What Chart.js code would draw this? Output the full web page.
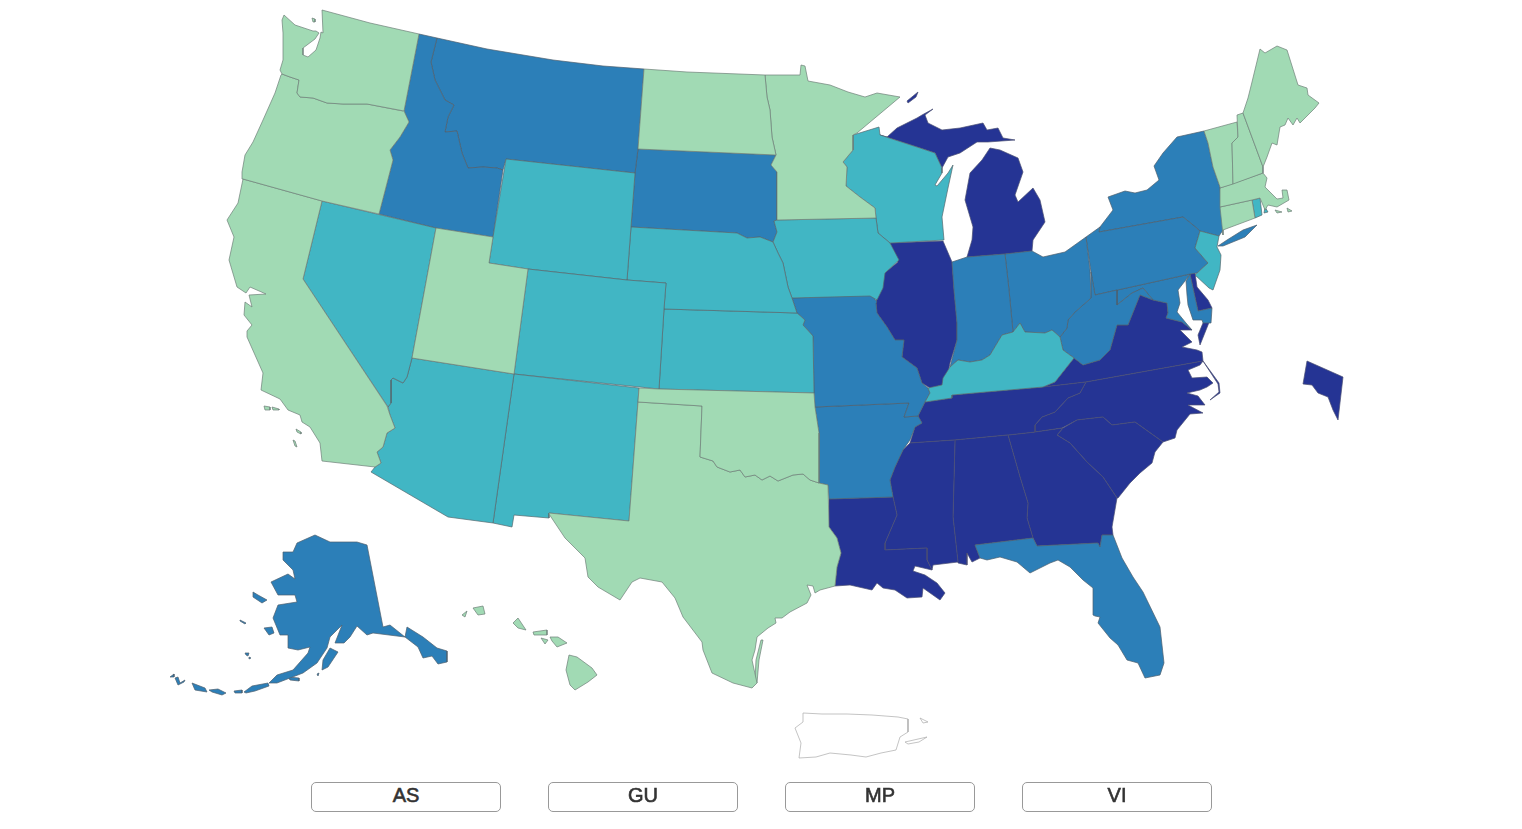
<!DOCTYPE html>
<html>
<head>
<meta charset="utf-8">
<title>US map</title>
<script src="https://cdn.jsdelivr.net/npm/chart.js@4"></script>
<style>
body { margin: 0; background: #fff; overflow: hidden; }
#mapChart { position: absolute; left: 0; top: 0; }
.territory {
    position: absolute; top: 782px; width: 190px; height: 30px; box-sizing: border-box;
    background: #fff; border: 1px solid #999; border-radius: 5px; padding: 0 0 3px 0;
    font: 20px "Liberation Sans", Arial, sans-serif; color: #333; -webkit-text-stroke: 0.6px #333;
}
</style>
</head>
<body>
<canvas id="mapChart" width="1522" height="829"></canvas>
<button class="territory" style="left:311px">AS</button>
<button class="territory" style="left:548px">GU</button>
<button class="territory" style="left:785px">MP</button>
<button class="territory" style="left:1022px">VI</button>
<script>
// rate bucket per state, 0 = lowest, 3 = highest, -1 = no data
var level0 = ['WA','OR','CA','UT','ND','MN','OK','TX','ME','NH','VT','MA','CT','HI'];
var level1 = ['NV','AZ','NM','CO','WY','NE','KS','IA','WI','KY','NJ','RI'];
var level2 = ['ID','MT','SD','MO','AR','IN','OH','WV','PA','NY','MD','FL','AK'];
var level3 = ['IL','MI','LA','MS','AL','TN','GA','SC','NC','VA','DE','DC'];
var noData = ['PR'];

var levelColors = ['#a1dab4','#41b6c4','#2c7fb8','#253494'];

// outlines, flat x,y lists in map units, one list per land part
var WA = [[322,10,370,23,419,34,404,111,403,111,367,104,343,104,327,103,313,98,300,97,297,93,299,80,290,77,282,74,280,70,283,60,283,53,283,33,282,20,284,15,295,25,313,31,316,31,319,33,315,39,303,48,303,55,308,57,316,50,320,38,321,32,323,33],
    [312,18,315,19,315,22,313,22]];
var OR = [[404,111,409,122,400,137,390,150,393,160,379,214,322,201,243,179,242,172,245,155,253,142,263,120,275,93,281,75,282,74,290,77,299,80,297,93,300,97,313,98,327,103,343,104,367,104,403,111]];
var CA = [[243,179,322,201,303,279,387,406,390,415,395,428,387,433,383,447,377,452,381,463,375,467,322,461,320,443,310,427,302,422,300,415,288,410,280,399,261,390,263,373,247,337,247,331,252,325,244,315,245,302,252,307,249,295,266,294,250,287,246,293,237,287,229,260,234,237,227,220,238,203],
    [264,406,270,407,270,410,265,410],[272,407,279,409,279,410,273,410],[296,429,301,432,301,434,297,432],[293,440,295,441,297,447,295,446]];
var NV = [[322,201,436,228,412,358,407,377,403,383,393,378,391,380,391,403,388,407,303,279]];
var UT = [[436,228,493,237,489,263,528,269,514,374,412,358]];
var WY = [[506,159,635,173,631,227,627,280,528,269,489,263,493,237]];
var ID = [[419,34,437,38,431,62,435,80,445,100,454,105,448,117,445,132,457,131,462,153,468,168,483,167,497,168,503,170,493,237,436,228,379,214,393,160,390,150,400,137,409,122,404,111]];
var MT = [[437,38,487,49,553,60,603,66,644,69,638,149,635,173,506,159,503,170,497,168,483,167,468,168,462,153,457,131,445,132,448,117,454,105,445,100,435,80,431,62]];
var ND = [[644,69,687,72,765,75,767,97,770,110,772,137,776,155,638,149]];
var MN = [[765,75,800,75,801,65,805,66,808,81,830,85,848,92,865,97,877,93,900,97,857,133,853,135,853,150,843,162,847,167,846,186,860,197,875,208,876,218,777,220,777,172,771,165,776,155,772,137,770,110,767,97]];
var SD = [[638,149,776,155,771,165,777,172,777,220,774,221,777,232,773,242,760,237,747,238,737,233,631,227,635,173]];
var NE = [[631,227,737,233,747,238,760,237,773,242,778,253,783,263,788,287,792,298,797,313,664,309,666,283,627,280]];
var CO = [[528,269,627,280,666,283,664,309,659,389,514,374]];
var NM = [[514,374,639,388,629,521,549,513,549,518,514,515,512,527,493,523]];
var AZ = [[412,358,514,374,493,523,448,517,371,472,375,467,381,463,377,452,383,447,387,433,395,428,390,415,388,407,391,403,391,380,393,378,403,383,407,377]];
var KS = [[664,309,797,313,805,320,803,325,813,336,814,393,659,389]];
var OK = [[639,388,659,389,814,393,815,407,819,433,819,483,810,480,803,474,793,475,778,481,770,476,762,480,755,475,745,477,740,470,730,472,717,467,713,461,700,457,702,406,638,402]];
var TX = [[638,402,702,406,700,457,713,461,717,467,730,472,740,470,745,477,755,475,762,480,770,476,778,481,793,475,803,474,810,480,819,483,828,485,829,527,837,538,841,553,837,567,835,586,820,590,815,593,813,586,807,585,811,595,807,603,790,612,782,618,775,618,776,623,768,628,757,637,755,650,752,660,757,683,752,688,733,683,712,673,703,650,702,642,683,617,675,598,662,582,640,578,632,582,620,600,598,587,588,577,585,558,565,538,553,520,549,514,549,513,629,521],
    [757,683,759,660,763,640,761,640,756,660,755,680]];
var MO = [[792,298,872,295,877,302,876,303,877,313,887,327,895,340,904,340,902,357,917,368,922,383,928,388,930,393,925,402,918,416,904,417,909,403,815,407,814,393,813,336,803,325,805,320,797,313]];
var AR = [[815,407,909,403,904,417,918,416,922,423,915,427,910,440,903,450,895,467,890,480,893,497,829,499,828,485,819,483,819,433]];
var LA = [[829,499,893,497,897,515,885,543,885,550,927,548,927,560,932,570,915,566,913,571,925,575,928,577,937,583,945,593,940,600,923,588,922,597,907,598,895,590,883,588,877,583,872,590,850,585,835,586,837,567,841,553,837,538,829,527]];
var MS = [[910,443,955,440,953,517,958,562,933,565,932,570,927,560,927,548,885,550,885,543,897,515,893,497,890,480,895,467,903,450]];
var AL = [[955,440,1008,435,1020,477,1028,503,1027,518,1033,538,975,545,980,558,972,562,967,553,967,565,958,563,953,517]];
var GA = [[1008,435,1035,432,1063,428,1057,435,1070,443,1087,462,1103,477,1117,498,1112,527,1113,535,1102,535,1100,547,1098,543,1037,546,1033,538,1027,518,1028,503,1020,477]];
var FL = [[975,545,1033,538,1037,546,1098,543,1100,547,1102,535,1113,535,1122,558,1133,577,1143,592,1160,627,1164,663,1160,675,1145,678,1138,663,1127,660,1118,645,1110,638,1098,623,1100,617,1095,616,1093,615,1093,588,1083,580,1070,567,1058,560,1050,563,1030,573,1017,562,1000,557,987,560,980,558]];
var SC = [[1057,435,1063,428,1077,420,1103,417,1112,425,1135,422,1163,442,1155,452,1152,463,1140,473,1130,483,1118,498,1117,498,1103,477,1087,462,1070,443]];
var NC = [[1086,382,1203,361,1200,365,1188,370,1192,378,1207,377,1213,383,1207,387,1200,390,1187,393,1198,396,1205,405,1188,405,1203,413,1190,414,1177,430,1175,438,1163,442,1135,422,1112,425,1103,417,1077,420,1062,428,1035,432,1035,425,1042,417,1055,412,1068,398,1080,393],
    [1203,361,1219,383,1220,393,1210,400,1219,392,1218,384]];
var VA = [[1043,387,1055,382,1074,358,1083,365,1100,360,1110,350,1117,325,1128,325,1140,295,1153,300,1167,303,1168,313,1166,318,1182,322,1192,330,1180,330,1192,342,1182,347,1197,350,1202,352,1203,361,1086,382],
    [1210,320,1203,323,1198,335,1200,345]];
var TN = [[925,402,952,398,952,395,1043,387,1086,382,1080,393,1068,398,1055,412,1042,417,1035,425,1035,432,1008,435,955,440,910,443,915,427,922,423,918,416]];
var KY = [[930,393,928,388,942,385,943,378,950,367,958,360,970,362,982,360,990,355,1002,335,1013,332,1020,323,1025,332,1045,333,1052,330,1060,337,1063,350,1074,358,1055,382,1043,387,952,395,952,398,925,402]];
var IL = [[890,243,943,241,952,262,954,290,957,323,957,340,950,363,948,373,942,385,930,388,922,383,917,368,902,357,904,340,895,340,887,327,877,313,876,303,877,297,883,280,882,275,898,262]];
var IA = [[777,220,876,218,878,233,890,243,899,260,885,273,883,288,877,300,870,296,792,298,788,287,783,263,778,253,773,242,777,232,774,221]];
var WI = [[853,135,879,127,880,135,920,148,935,153,942,168,942,173,935,185,937,186,948,173,953,165,948,188,942,217,944,240,890,243,878,233,876,218,875,208,860,197,846,186,847,167,843,162,853,150]];
var MI = [[887,137,897,128,917,118,922,115,933,109,925,115,928,123,942,130,960,128,983,123,987,130,998,128,1003,138,1015,140,988,142,977,142,960,153,948,157,942,168,935,153,920,148,880,135],
    [907,101,918,92,916,97,908,103],
    [990,148,1000,150,1018,158,1023,172,1015,195,1018,202,1033,188,1040,200,1045,222,1033,240,1032,251,1005,254,967,257,972,240,973,227,965,200,970,173,982,160]];
var IN = [[952,262,967,257,1005,254,1009,290,1013,332,1002,335,990,355,982,360,970,362,958,360,950,367,957,340,957,323,954,290]];
var OH = [[1005,254,1032,251,1043,257,1065,252,1086,237,1090,270,1091,298,1075,312,1068,320,1067,328,1060,337,1052,330,1045,333,1025,332,1020,323,1013,332,1009,290]];
var WV = [[1060,337,1067,328,1068,320,1075,312,1091,298,1091,272,1095,295,1117,290,1117,305,1132,293,1143,288,1153,300,1140,295,1128,325,1117,325,1110,350,1100,360,1083,365,1074,358,1063,350]];
var PA = [[1086,237,1100,227,1099,232,1183,217,1193,225,1200,231,1195,248,1208,263,1197,273,1190,274,1095,295,1091,272]];
var NY = [[1204,131,1177,137,1163,153,1154,166,1159,180,1147,190,1135,193,1125,191,1108,197,1113,210,1100,227,1099,232,1183,217,1193,225,1200,231,1219,236,1223,230,1220,187,1213,167,1208,143],
    [1218,246,1227,240,1243,230,1257,225,1245,237,1223,246]];
var NJ = [[1200,231,1219,236,1217,247,1221,255,1220,270,1213,290,1209,288,1195,275,1208,263,1195,248]];
var MD = [[1117,290,1190,274,1185,281,1178,290,1180,303,1177,312,1186,323,1192,330,1182,322,1166,318,1168,313,1167,303,1153,300,1143,288,1132,293,1117,305],
    [1186,281,1190,274,1198,311,1212,308,1211,323,1203,323,1202,320,1193,320,1188,305,1187,295]];
var DE = [[1190,274,1195,273,1197,287,1208,300,1212,308,1198,311]];
var DC = [[1307,361,1343,377,1338,420,1333,410,1328,397,1318,393,1312,385,1303,384]];
var CT = [[1220,207,1252,200,1255,218,1223,230,1223,235]];
var RI = [[1252,200,1260,198,1262,215,1255,218],[1265,207,1268,212,1264,213]];
var MA = [[1220,188,1263,173,1267,178,1265,187,1277,199,1283,198,1282,190,1287,190,1289,200,1277,207,1268,205,1265,210,1260,198,1252,200,1220,207],
    [1275,210,1282,212,1277,213],[1287,208,1292,211,1288,212]];
var VT = [[1204,131,1237,122,1238,137,1232,143,1233,184,1220,188,1220,187,1213,167,1208,143]];
var NH = [[1237,115,1243,113,1263,167,1263,173,1233,184,1232,143,1238,137]];
var ME = [[1243,113,1248,98,1252,82,1260,49,1265,53,1277,46,1287,50,1298,85,1307,88,1308,95,1319,103,1315,108,1300,123,1297,118,1293,125,1288,118,1285,125,1280,127,1277,145,1272,143,1267,157,1263,167]];
var HI = [[569,655,577,657,592,668,597,675,588,682,575,690,570,685,566,670],
    [550,637,558,637,567,643,557,647,552,641],[533,632,547,630,547,635,534,635],[541,638,548,640,545,644],
    [513,623,518,618,526,630,518,628],[473,608,483,606,485,614,478,615],[462,615,467,611,465,617]];
var AK = [[367,545,383,627,390,625,405,637,407,627,423,637,437,648,447,651,447,662,438,664,432,656,423,658,418,647,405,637,373,633,367,635,357,626,350,637,344,643,335,643,342,625,330,637,327,648,317,663,303,673,277,683,269,683,277,675,293,670,308,653,310,647,298,650,288,648,288,635,280,635,273,618,278,605,297,602,295,595,278,595,271,582,288,574,295,579,293,570,283,560,283,552,293,552,297,543,315,535,330,542,357,542],
    [330,648,338,652,328,667,322,670,323,660],[264,628,272,627,274,633,269,635],[253,592,258,595,267,600,262,603,253,597],
    [192,683,205,688,207,692,195,690],[209,690,218,689,226,693,222,695,212,692],[234,691,242,690,242,693,235,693],
    [244,692,252,686,268,683,269,686,255,691,246,693],[170,677,174,674,174,677],[175,678,178,677,180,683,185,680,184,682,178,685],
    [240,620,246,623,245,624,240,621],[245,653,249,653,248,656,246,655],[249,657,251,658,249,659],
    [288,677,299,678,299,681,290,680],[317,674,319,673,318,676]];
var PR = [[803,713,822,714,847,714,872,715,898,717,908,719,908,732,900,737,896,750,881,753,866,757,851,755,830,753,816,757,799,758,801,743,795,728,803,722],
    [905,742,927,737,919,742,908,744],[920,718,928,722,923,723]];

var shapes = {WA:WA,OR:OR,CA:CA,NV:NV,UT:UT,WY:WY,ID:ID,MT:MT,ND:ND,MN:MN,SD:SD,NE:NE,CO:CO,NM:NM,AZ:AZ,KS:KS,OK:OK,TX:TX,MO:MO,AR:AR,LA:LA,MS:MS,AL:AL,GA:GA,FL:FL,SC:SC,NC:NC,VA:VA,TN:TN,KY:KY,IL:IL,IA:IA,WI:WI,MI:MI,IN:IN,OH:OH,WV:WV,PA:PA,NY:NY,NJ:NJ,MD:MD,DE:DE,DC:DC,CT:CT,RI:RI,MA:MA,VT:VT,NH:NH,ME:ME,HI:HI,AK:AK,PR:PR};

function toPoints(flat){
    var pts = [];
    for(var i = 0; i < flat.length; i += 2){
        pts.push({x: flat[i], y: flat[i + 1]});
    }
    pts.push({x: flat[0], y: flat[1]});
    return pts;
}

function addStates(datasets, names, fillColor, lineColor){
    names.forEach(function(name){
        shapes[name].forEach(function(part){
            datasets.push({
                label: name,
                data: toPoints(part),
                showLine: true,
                fill: 'shape',
                backgroundColor: fillColor,
                borderColor: lineColor,
                borderWidth: 0.7,
                pointRadius: 0,
                tension: 0
            });
        });
    });
}

var datasets = [];
addStates(datasets, level0, levelColors[0], '#6f7f78');
addStates(datasets, level1, levelColors[1], '#56686f');
addStates(datasets, level2, levelColors[2], '#4d5f6d');
addStates(datasets, level3, levelColors[3], '#4a4f72');
addStates(datasets, noData, '#ffffff', '#aaaaaa');

var ctx = document.getElementById('mapChart').getContext('2d');

var myChart = new Chart(ctx,{
    type: 'scatter',
    data:{
        datasets: datasets
    },
    options:{
        responsive: false,
        animation: false,
        layout: {padding: 0},
        plugins: {legend: {display: false}, tooltip: {enabled: false}},
        scales: {
            x: {type: 'linear', min: 0, max: 1522, display: false},
            y: {type: 'linear', min: 0, max: 829, reverse: true, display: false}
        }
    }
});
</script>
</body>
</html>
